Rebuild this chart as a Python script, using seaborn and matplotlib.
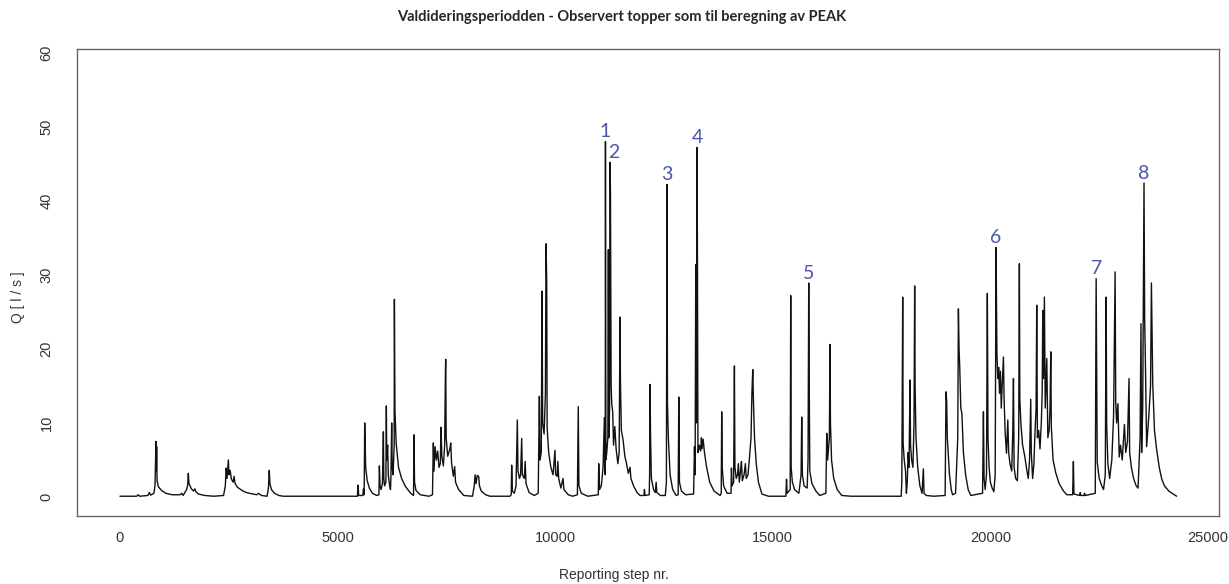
import pandas as pd
import matplotlib
matplotlib.use('Agg')
import matplotlib.pyplot as plt
import seaborn as sns

period_1 = [(0, 0.1), (380, 0.1), (420, 0.3), (450, 0.1), (640, 0.2), (675, 0.6), (705, 0.25),
            (780, 0.5), (805, 1.6), (827, 7.5), (834, 3.5), (842, 6.8), (852, 2.2), (880, 1.4),
            (950, 0.9), (1050, 0.5), (1200, 0.3), (1380, 0.3), (1420, 0.5), (1450, 0.2),
            (1490, 0.6), (1530, 1.0), (1555, 1.6), (1570, 3.2), (1585, 1.8), (1640, 1.1),
            (1690, 0.8), (1720, 1.1), (1745, 0.7), (1800, 0.4), (1950, 0.2), (2150, 0.1),
            (2380, 0.2), (2420, 1.5), (2440, 3.9), (2460, 2.5), (2480, 4.2), (2490, 5.0),
            (2505, 3.0), (2530, 3.6), (2560, 2.4), (2600, 2.0), (2620, 2.8), (2645, 1.8),
            (2700, 1.3), (2800, 0.9), (2900, 0.6), (3050, 0.4), (3150, 0.3), (3180, 0.5),
            (3250, 0.2), (3380, 0.1), (3410, 1.2), (3430, 3.6), (3445, 1.8), (3480, 1.0),
            (3550, 0.5), (3650, 0.2), (3750, 0.1), (5400, 0.1)]

period_2 = [(5455, 0.1), (5470, 1.6), (5485, 0.2), (5580, 0.2), (5595, 1.1), (5605, 0.3),
            (5612, 1.5), (5623, 10.0), (5632, 7.3), (5645, 4.0), (5680, 2.2), (5730, 1.2),
            (5800, 0.5), (5900, 0.2), (5950, 0.3), (5960, 4.2), (5975, 1.5), (6000, 1.0),
            (6030, 1.8), (6052, 8.8), (6062, 2.5), (6080, 1.5), (6110, 2.0), (6120, 12.3),
            (6130, 5.0), (6150, 7.0), (6165, 3.0), (6190, 1.8), (6215, 1.0), (6225, 2.5),
            (6243, 10.0), (6255, 4.0), (6275, 3.0), (6300, 7.0), (6305, 26.7), (6318, 11.7),
            (6345, 7.3), (6400, 4.0), (6470, 2.5), (6560, 1.4), (6680, 0.5), (6745, 0.2),
            (6756, 8.4), (6768, 2.0), (6800, 0.9), (6900, 0.3), (7100, 0.1), (7180, 0.3),
            (7200, 7.3), (7215, 3.5), (7240, 6.8), (7270, 5.0), (7300, 6.2), (7330, 4.0),
            (7360, 4.5), (7377, 9.4), (7395, 5.5), (7430, 4.2), (7460, 7.0), (7478, 17.0),
            (7484, 18.6), (7495, 8.0), (7530, 5.5), (7580, 6.5), (7600, 7.3), (7620, 4.5),
            (7660, 2.8), (7690, 4.1), (7710, 2.0), (7780, 1.0), (7900, 0.2), (8100, 0.1),
            (8140, 1.5), (8160, 3.0), (8180, 1.8), (8210, 2.9), (8240, 2.8), (8260, 1.5),
            (8300, 0.8), (8400, 0.3), (8500, 0.1), (8960, 0.1)]

period_3 = [(8990, 0.3), (9000, 4.3), (9015, 0.8), (9060, 0.5), (9100, 1.5), (9130, 10.4),
            (9145, 3.5), (9180, 2.5), (9205, 3.0), (9230, 7.9), (9245, 3.0), (9290, 2.5),
            (9310, 4.8), (9330, 1.8), (9400, 0.6), (9520, 0.2), (9610, 0.5), (9636, 13.6),
            (9650, 5.0), (9680, 6.0), (9698, 27.8), (9712, 10.0), (9745, 8.5), (9775, 14.0),
            (9790, 34.2), (9805, 29.0), (9815, 9.4), (9850, 6.0), (9900, 4.0), (9950, 3.0),
            (9995, 6.3), (10010, 3.0), (10045, 2.8), (10060, 4.8), (10080, 2.5), (10130, 1.2),
            (10180, 2.5), (10200, 1.0), (10300, 0.3), (10400, 0.1), (10510, 0.3), (10530, 12.2),
            (10545, 1.5), (10600, 0.5), (10750, 0.1), (10990, 0.3), (11000, 4.5), (11020, 1.0),
            (11060, 1.5), (11100, 4.0), (11130, 10.7), (11140, 5.0), (11150, 3.0), (11155, 48.0),
            (11165, 5.0), (11185, 6.0), (11210, 8.0), (11222, 33.4), (11232, 8.0), (11250, 12.0),
            (11260, 45.2), (11270, 41.2), (11285, 15.0), (11300, 12.5), (11322, 11.5),
            (11340, 7.0), (11370, 9.5), (11400, 6.5), (11440, 4.5), (11470, 6.0), (11480, 15.3),
            (11490, 24.3), (11500, 15.3), (11520, 9.0), (11560, 7.7), (11600, 5.5), (11640, 4.5),
            (11680, 3.2), (11720, 4.0), (11740, 2.5), (11800, 1.5), (11880, 0.6), (11950, 0.2)]

period_4 = [(12040, 0.2), (12050, 1.0), (12065, 0.2), (12160, 0.3), (12170, 3.0), (12180, 15.2),
            (12190, 8.6), (12210, 2.5), (12260, 1.0), (12300, 0.6), (12320, 2.0), (12335, 0.6),
            (12420, 0.2), (12530, 0.2), (12555, 2.0), (12570, 42.2), (12580, 12.6), (12600, 8.0),
            (12640, 3.0), (12700, 1.0), (12780, 0.2), (12825, 0.3), (12840, 13.5), (12855, 2.0),
            (12900, 0.8), (13000, 0.3), (13180, 0.4), (13200, 6.8), (13215, 3.0), (13230, 31.4),
            (13245, 10.0), (13260, 47.2), (13270, 29.7), (13280, 6.0), (13310, 7.0), (13340, 6.2),
            (13360, 8.0), (13375, 6.5), (13400, 7.8), (13430, 6.0), (13480, 4.0), (13550, 2.0),
            (13650, 0.8), (13790, 0.2), (13815, 0.5), (13826, 11.5), (13838, 4.0), (13870, 1.5),
            (13950, 0.5), (14040, 0.5), (14050, 3.9), (14065, 1.5), (14100, 2.0), (14118, 17.7),
            (14130, 4.0), (14160, 2.5), (14190, 3.0), (14210, 4.5), (14230, 2.0), (14260, 3.5),
            (14280, 4.8), (14300, 2.2), (14340, 3.0), (14370, 4.5), (14390, 2.5), (14430, 3.0),
            (14460, 5.0), (14500, 8.0), (14520, 14.0), (14540, 17.2), (14555, 13.0), (14580, 8.0),
            (14620, 4.5), (14670, 2.0), (14750, 0.4), (14900, 0.1), (15300, 0.1), (15315, 2.4),
            (15330, 0.5), (15400, 1.0), (15412, 27.2), (15422, 4.0), (15450, 2.0), (15500, 1.0),
            (15600, 0.5), (15650, 3.0), (15665, 10.8), (15680, 3.0), (15720, 1.5), (15790, 1.2),
            (15810, 5.0), (15826, 28.9), (15835, 17.9), (15850, 3.5), (15900, 1.8), (15990, 0.8),
            (16080, 0.2), (16220, 0.5), (16240, 8.6), (16260, 5.0), (16300, 8.0), (16315, 20.6),
            (16325, 10.0), (16350, 5.0), (16400, 2.5), (16480, 1.0), (16585, 0.2), (16800, 0.1),
            (17950, 0.1)]

period_5 = [(17965, 2.0), (17985, 27.0), (17995, 7.2), (18020, 5.0), (18050, 3.5), (18070, 0.5),
            (18090, 2.0), (18110, 6.0), (18130, 4.0), (18154, 15.8), (18165, 7.0), (18190, 5.0),
            (18220, 4.0), (18245, 10.0), (18260, 28.5), (18270, 15.0), (18290, 8.0), (18330, 4.0),
            (18380, 1.5), (18430, 0.5), (18460, 3.8), (18475, 0.5), (18530, 0.2), (18700, 0.1),
            (18960, 0.2), (18975, 10.0), (18980, 14.2), (18995, 13.0), (19010, 8.0), (19030, 6.0),
            (19060, 3.0), (19100, 1.0), (19130, 0.3), (19200, 0.5), (19250, 8.0), (19265, 25.4),
            (19280, 20.0), (19295, 17.6), (19320, 12.0), (19345, 11.3), (19380, 6.0), (19430, 3.0),
            (19490, 1.0), (19550, 0.2), (19820, 0.5), (19840, 11.5), (19855, 2.5), (19880, 1.0),
            (19910, 3.0), (19930, 27.5), (19945, 8.0), (19970, 4.0), (20000, 2.0)]

period_6 = [(20040, 1.2), (20080, 0.7), (20110, 3.0), (20130, 33.7), (20140, 27.0), (20150, 19.4),
            (20170, 16.0), (20190, 17.5), (20210, 14.0), (20230, 17.0), (20250, 12.0), (20270, 15.0),
            (20300, 18.9), (20315, 13.2), (20340, 8.6), (20370, 5.9), (20400, 10.4), (20420, 6.0),
            (20450, 4.5), (20490, 3.5), (20515, 9.0), (20530, 16.0), (20545, 4.0), (20580, 2.5),
            (20620, 2.2), (20650, 8.0), (20666, 31.5), (20676, 13.3), (20700, 10.0), (20740, 7.0),
            (20790, 5.5), (20840, 3.5), (20870, 2.5), (20900, 5.0), (20927, 13.2), (20940, 6.0),
            (20970, 2.5), (21000, 4.5), (21020, 8.0), (21050, 12.0), (21065, 25.9), (21080, 8.0),
            (21110, 9.0), (21140, 6.5), (21170, 10.0), (21190, 14.0), (21204, 25.2), (21220, 16.0),
            (21241, 27.0), (21260, 12.0), (21296, 18.7), (21320, 8.0), (21350, 9.0), (21370, 12.0),
            (21388, 19.6), (21400, 9.5), (21440, 5.0), (21500, 3.3), (21580, 1.8), (21680, 0.8),
            (21755, 0.3), (21890, 0.3), (21907, 4.8), (21920, 0.4), (22050, 0.2), (22065, 0.6),
            (22080, 0.2), (22150, 0.2), (22165, 0.5), (22180, 0.2), (22410, 0.5), (22430, 29.5),
            (22440, 19.1), (22455, 4.7), (22500, 2.5), (22560, 1.5), (22600, 1.0), (22640, 3.0),
            (22660, 27.0), (22672, 9.8), (22700, 4.5), (22740, 2.5), (22790, 5.0), (22830, 10.9),
            (22866, 30.4), (22880, 12.8), (22900, 10.0), (22930, 12.6), (22960, 5.4), (22990, 7.0),
            (23030, 5.0), (23080, 9.8), (23110, 6.0), (23150, 7.5), (23186, 16.0), (23200, 6.0),
            (23240, 4.0), (23290, 2.5), (23350, 1.5), (23393, 1.2), (23440, 8.0), (23460, 23.4),
            (23475, 6.0), (23500, 12.0), (23530, 42.4), (23545, 23.9), (23560, 19.0), (23590, 6.8),
            (23640, 10.9), (23680, 15.0), (23700, 28.9), (23712, 23.2), (23730, 15.4), (23770, 9.0),
            (23820, 6.4), (23880, 4.0), (23938, 2.4), (24000, 1.5), (24100, 0.8), (24200, 0.4),
            (24280, 0.1)]

# peaks picked out for the PEAK calculation
peak_labels = ['1', '2', '3', '4', '5', '6', '7', '8']
peak_steps = [11155, 11260, 12570, 13260, 15826, 20130, 22430, 23530]

records = period_1 + period_2 + period_3 + period_4 + period_5 + period_6
df = pd.DataFrame(records, columns=['step', 'Q'])

sns.set_style('white')
plt.rcParams['font.family'] = ['Liberation Sans', 'DejaVu Sans']

fig = plt.figure(figsize=(12.29, 5.84), dpi=100)
ax = fig.add_axes([77 / 1229, 68 / 584, 1142 / 1229, 467 / 584])

sns.lineplot(data=df, x='step', y='Q', color='#111111', linewidth=1.0,
             estimator=None, sort=False, ax=ax)

ax.set_xlim(-988, 25253)
ax.set_ylim(-2.57, 60.5)
ax.set_xticks(range(0, 25001, 5000))
ax.set_yticks(range(0, 61, 10))
ax.set_xlabel('')
ax.set_ylabel('')
ax.tick_params(axis='both', direction='out', length=5, width=0.9, color='#555555',
               labelcolor='#333333', labelsize=10.5)
ax.tick_params(axis='x', pad=6)
ax.tick_params(axis='y', pad=12)
for lab in ax.get_yticklabels():
    lab.set_rotation(90)
    lab.set_va('center')
for sp in ax.spines.values():
    sp.set_visible(True)
    sp.set_color('#666666')
    sp.set_linewidth(1.0)

q_lookup = dict(records)
for lab, s in zip(peak_labels, peak_steps):
    dx = 3 if lab == '2' else 0
    ax.annotate(lab, xy=(s, q_lookup[s]), xytext=(dx, 1), textcoords='offset points',
                ha='center', va='bottom', fontsize=14, color='#4b55ad', family='Lato')

fig.text(622 / 1229, 1 - 17 / 584,
         'Valdideringsperiodden - Observert topper som til beregning av PEAK',
         ha='center', va='center', fontsize=10.5, fontweight='bold', family='Lato')
fig.text(18 / 1229, 1 - 297 / 584, 'Q [ l / s ]', rotation=90, ha='center', va='center',
         fontsize=10, color='#333333')
fig.text(614 / 1229, 1 - 575 / 584, 'Reporting step nr.', ha='center', va='center',
         fontsize=10, color='#333333')

fig.savefig('out.png', dpi=100)
